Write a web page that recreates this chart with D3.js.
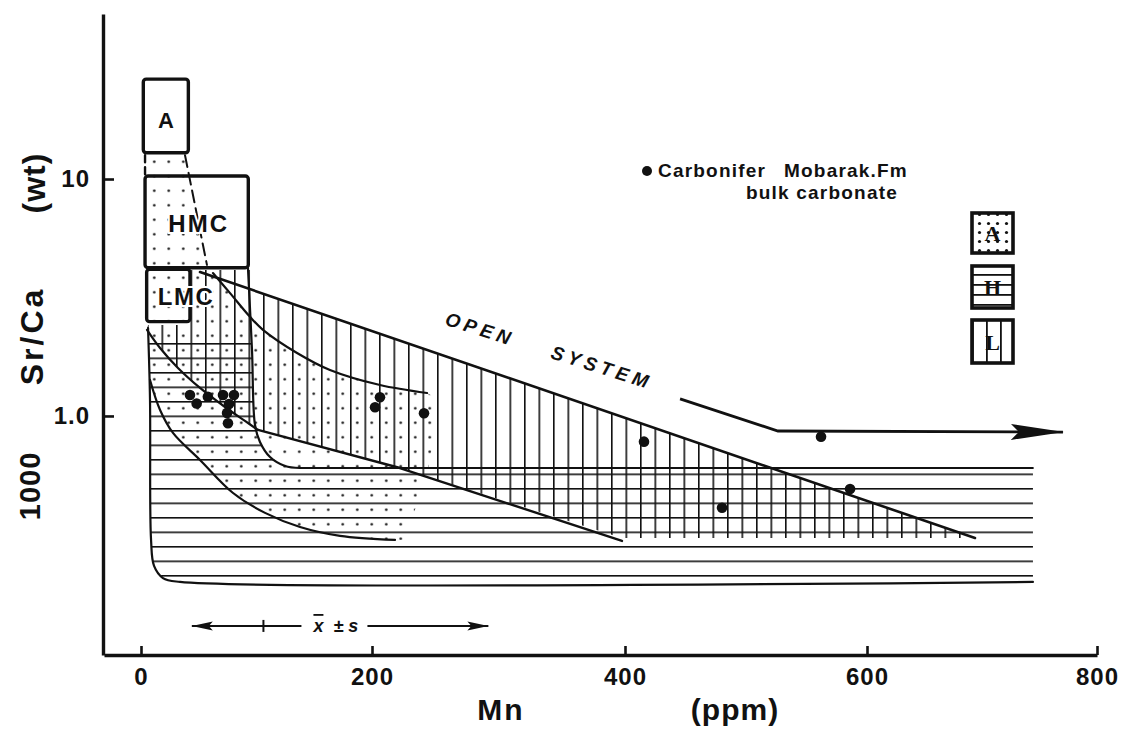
<!DOCTYPE html>
<html><head><meta charset="utf-8">
<script src="https://cdn.jsdelivr.net/npm/d3@7"></script>
<style>
html,body{margin:0;padding:0;background:#fff;}
svg{display:block;}
</style></head><body>
<svg id="chart" width="1128" height="729"></svg>
<script>
// ---------------- data ----------------
const xTickValues = [0, 200, 400, 600, 800];
const xTickLabels = ["0", "200", "400", "600", "800"];
const yTickValues = [1, 10];
const yTickLabels = ["1.0", "10"];

// Carbonifer Mobarak Fm bulk carbonate samples: Mn (ppm), Sr/Ca x1000
const sampleMn   = [42.4, 48.2, 57.9, 71.0, 80.5, 76.2, 74.5, 75.3, 206.3, 202.4, 241.1, 415.7, 480.2, 562.0, 586.0];
const sampleSrCa = [1.226, 1.129, 1.206, 1.226, 1.226, 1.124, 1.03, 0.932, 1.199, 1.088, 1.026, 0.779, 0.410, 0.818, 0.492];

// mean +- s of Mn
const xbarMn = [44, 106, 292];   // low, mean, high
const xbarSrCa = 0.130;

// mineral boxes [Mn min, Mn max], [Sr/Ca min, Sr/Ca max]
const boxAMn = [2.0, 41.0],   boxASrCa = [12.9, 26.4];
const boxHMCMn = [3.5, 92.9], boxHMCSrCa = [4.22, 10.3];
const boxLMCMn = [4.9, 42.4], boxLMCSrCa = [2.50, 4.16];
const gapDashLeft  = [[3.5, 12.6], [3.5, 10.3]];
const gapDashSlant = [[38.1, 12.6], [57.1, 4.34]];

// fields
const hField = [[6.1,2.28],[7.8,1.168],[8.7,0.2998],[11.3,0.2328],[19.0,0.207],[33.8,0.1993],[744.3,0.1993],[744.3,0.603],[137.7,0.603],[124.7,0.615],[111.7,0.671],[103.0,0.777],[98.7,0.916],[96.1,1.899],[94.4,2.28]];
const vField = [[6.1,2.42],[42.4,2.42],[42.4,4.13],[94.4,4.13],[94.4,3.43],[693.9,0.3056],[397.6,0.3056],[222.1,0.603],[101.3,0.873],[90.0,0.953],[72.7,1.091],[51.1,1.313],[32,1.594],[16.5,1.936],[5.2,2.31]];
const dotField = [[4.3,12.38],[38.1,12.38],[57.1,4.34],[62.3,4.01],[77.1,3.30],[94.4,2.62],[105.6,2.31],[135.1,1.845],[163.6,1.564],[206.3,1.351],[243.5,1.25],[253.8,1.168],[244.3,0.592],[226.1,0.2997],[218.2,0.2997],[172.3,0.312],[137.7,0.340],[107.4,0.39],[79.7,0.473],[51.1,0.652],[27.7,0.848],[16.5,1.06],[7.8,1.419],[4.3,1.419]];

// boundary lines
const lineL1 = [[51.1,4.05],[693.9,0.3056]];
const lineL2 = [[101.3,0.873],[222.1,0.603],[397.6,0.297]];
const curveC1 = [[62.3,4.01],[77.1,3.30],[94.4,2.62],[105.6,2.31],[135.1,1.845],[163.6,1.564],[206.3,1.351],[243.5,1.25]];
const curveC2 = [[5.2,2.31],[16.5,1.936],[32,1.594],[51.1,1.313],[72.7,1.091],[90.0,0.953],[101.3,0.873]];
const curveC3 = [[7.8,1.419],[16.5,1.06],[27.7,0.848],[51.1,0.652],[79.7,0.473],[107.4,0.39],[137.7,0.340],[172.3,0.312],[218.2,0.2997]];
const curveC4 = [[92.6,4.21],[96.1,1.899],[98.7,0.916],[103.0,0.777],[111.7,0.671],[124.7,0.615],[137.7,0.603]];
const lineHTop = [[137.7,0.603],[744.3,0.603]];
const outlineH = [[6.1,2.35],[7.8,1.168],[8.7,0.2998],[11.3,0.2328],[19.0,0.207],[33.8,0.1993],[744.3,0.1993]];
const openSystemArrow = [[445.5,1.18],[526.4,0.864],[770.4,0.855]];

// ---------------- drawing ----------------
const svg = d3.select("#chart");
const FONT = "'Liberation Sans', Arial, sans-serif";
const INK = "#111";

const x = d3.scaleLinear().domain([-32, 0, 200, 400, 600, 800]).range([104, 141, 372, 625, 867, 1097]);
const y = d3.scaleLog().domain([0.098, 49.7]).range([655, 14]);
const line = d3.line().x(d => x(d[0])).y(d => y(d[1]));
const curve = d3.line().x(d => x(d[0])).y(d => y(d[1])).curve(d3.curveCatmullRom.alpha(0.5));

const defs = svg.append("defs");
// horizontal hatch
const ph = defs.append("pattern").attr("id","hLines").attr("patternUnits","userSpaceOnUse")
  .attr("x",0).attr("y",9.5).attr("width",20).attr("height",14.5);
ph.append("rect").attr("x",0).attr("y",0).attr("width",20).attr("height",1.6).attr("fill",INK);
// vertical hatch
const pv = defs.append("pattern").attr("id","vLines").attr("patternUnits","userSpaceOnUse")
  .attr("x",2).attr("y",0).attr("width",14.5).attr("height",20);
pv.append("rect").attr("x",0).attr("y",0).attr("width",1.6).attr("height",20).attr("fill",INK);
// dots
const pd = defs.append("pattern").attr("id","dots").attr("patternUnits","userSpaceOnUse")
  .attr("x",2).attr("y",9.5).attr("width",14.5).attr("height",14.5);
pd.append("circle").attr("cx",7.25).attr("cy",7.25).attr("r",1.3).attr("fill",INK);
// legend patterns
const lph = defs.append("pattern").attr("id","lhLines").attr("patternUnits","userSpaceOnUse")
  .attr("x",0).attr("y",4).attr("width",10).attr("height",10);
lph.append("rect").attr("width",10).attr("height",1.8).attr("fill",INK);
const lpv = defs.append("pattern").attr("id","lvLines").attr("patternUnits","userSpaceOnUse")
  .attr("x",6).attr("y",0).attr("width",14).attr("height",10);
lpv.append("rect").attr("width",1.8).attr("height",10).attr("fill",INK);
const lpd = defs.append("pattern").attr("id","ldots").attr("patternUnits","userSpaceOnUse")
  .attr("x",3).attr("y",3).attr("width",9).attr("height",9);
lpd.append("circle").attr("cx",4.5).attr("cy",4.5).attr("r",1.6).attr("fill",INK);

// arrow markers
defs.append("marker").attr("id","arrowBig").attr("markerUnits","userSpaceOnUse")
  .attr("viewBox","0 0 54 18").attr("refX",52).attr("refY",9).attr("markerWidth",54).attr("markerHeight",18)
  .attr("orient","auto")
  .append("path").attr("d","M0,1 L53,9 L0,17 L8,9 Z").attr("fill",INK);
defs.append("marker").attr("id","arrowSmall").attr("markerUnits","userSpaceOnUse")
  .attr("viewBox","0 0 22 10").attr("refX",21).attr("refY",5).attr("markerWidth",22).attr("markerHeight",10)
  .attr("orient","auto-start-reverse")
  .append("path").attr("d","M0,0.5 L21,5 L0,9.5 L4,5 Z").attr("fill",INK);

const g = svg.append("g");

// pattern fields
g.append("path").attr("d", line(hField) + "Z").attr("fill","url(#hLines)");
g.append("path").attr("d", line(vField) + "Z").attr("fill","url(#vLines)");
g.append("path").attr("d", line(dotField) + "Z").attr("fill","url(#dots)");

// boundary lines
const strokeLine = (d, gen, w, dash) => g.append("path").attr("d", gen(d)).attr("fill","none")
  .attr("stroke",INK).attr("stroke-width",w).attr("stroke-dasharray",dash || null)
  .attr("stroke-linecap","round").attr("stroke-linejoin","round");
strokeLine(outlineH, curve, 2.2);
strokeLine(lineHTop, line, 1.8);
strokeLine(lineL1, line, 2.6);
strokeLine(lineL2, line, 2.4);
strokeLine(curveC1, curve, 2.2);
strokeLine(curveC2, curve, 2.2);
strokeLine(curveC3, curve, 2.2);
strokeLine(curveC4, curve, 2.2);

// boxes
function box(mn, sr) {
  g.append("rect").attr("x", x(mn[0])).attr("y", y(sr[1]))
    .attr("width", x(mn[1]) - x(mn[0])).attr("height", y(sr[0]) - y(sr[1]))
    .attr("rx",3).attr("fill","none").attr("stroke",INK).attr("stroke-width",3.4);
}
box(boxAMn, boxASrCa);
box(boxHMCMn, boxHMCSrCa);
box(boxLMCMn, boxLMCSrCa);
strokeLine(gapDashLeft, line, 2.4, "7,5");
strokeLine(gapDashSlant, line, 2, "12,6");

// box labels
const boxText = (t, xx, yy, size, ls) => g.append("text").attr("x", xx).attr("y", yy)
  .attr("text-anchor","middle").attr("font-family",FONT).attr("font-weight","bold")
  .attr("font-size",size).attr("letter-spacing",ls).attr("fill",INK)
  .attr("stroke","#fff").attr("stroke-width",4).attr("paint-order","stroke").text(t);
boxText("A", (x(boxAMn[0]) + x(boxAMn[1])) / 2, 128, 22, 0);
boxText("HMC", (x(boxHMCMn[0]) + x(boxHMCMn[1])) / 2 + 2, 232, 24, 2);
boxText("LMC", 186, 305, 24, 1.5);

// OPEN SYSTEM
g.append("text").attr("transform","translate(547,357) rotate(17.5)")
  .attr("text-anchor","middle").attr("font-family",FONT).attr("font-weight","bold")
  .attr("font-style","italic").attr("font-size",19).attr("letter-spacing",4.5).attr("fill",INK)
  .attr("xml:space","preserve").text("OPEN    SYSTEM");
g.append("path").attr("d", line(openSystemArrow)).attr("fill","none").attr("stroke",INK)
  .attr("stroke-width",2.8).attr("marker-end","url(#arrowBig)");

// mean +- s
const yb = y(xbarSrCa);
g.append("line").attr("x1", x(xbarMn[1])).attr("x2", x(xbarMn[0])).attr("y1", yb).attr("y2", yb)
  .attr("stroke",INK).attr("stroke-width",2).attr("marker-end","url(#arrowSmall)");
g.append("line").attr("x1", x(xbarMn[1])).attr("x2", x(xbarMn[1]) + 38).attr("y1", yb).attr("y2", yb)
  .attr("stroke",INK).attr("stroke-width",2);
g.append("line").attr("x1", x(xbarMn[1]) + 104).attr("x2", x(xbarMn[2])).attr("y1", yb).attr("y2", yb)
  .attr("stroke",INK).attr("stroke-width",2).attr("marker-end","url(#arrowSmall)");
g.append("line").attr("x1", x(xbarMn[1])).attr("x2", x(xbarMn[1])).attr("y1", yb - 6).attr("y2", yb + 6)
  .attr("stroke",INK).attr("stroke-width",2);
g.append("text").attr("x", x(xbarMn[1]) + 50).attr("y", yb + 6)
  .attr("font-family",FONT).attr("font-weight","bold").attr("font-style","italic")
  .attr("font-size",18).attr("fill",INK).attr("xml:space","preserve").text("x  \u00B1 s");
g.append("line").attr("x1", x(xbarMn[1]) + 50).attr("x2", x(xbarMn[1]) + 60).attr("y1", yb - 11).attr("y2", yb - 11)
  .attr("stroke",INK).attr("stroke-width",1.8);

// samples
g.selectAll("circle.sample").data(sampleMn).join("circle").attr("class","sample")
  .attr("cx", d => x(d)).attr("cy", (d, i) => y(sampleSrCa[i])).attr("r", 5.3).attr("fill", INK);

// axes
const xAxis = d3.axisBottom(x).tickValues(xTickValues).tickFormat((d, i) => xTickLabels[i])
  .tickSizeInner(-9).tickSizeOuter(0).tickPadding(13);
const gx = svg.append("g").attr("transform","translate(0,655)").call(xAxis);
const yAxis = d3.axisLeft(y).tickValues(yTickValues).tickFormat((d, i) => yTickLabels[i])
  .tickSizeInner(-11).tickSizeOuter(0).tickPadding(13);
const gy = svg.append("g").attr("transform","translate(103,0)").call(yAxis);
[gx, gy].forEach(a => {
  a.attr("font-family", FONT).attr("font-size", 24).attr("font-weight","bold");
  a.select(".domain").attr("stroke", INK).attr("stroke-width", 3.4);
  a.selectAll(".tick line").attr("stroke", INK).attr("stroke-width", 2.6);
  a.selectAll(".tick text").attr("fill", INK).attr("letter-spacing", 1);
});

// axis titles
const title = (t, tr, size, ls, anchor) => svg.append("text").attr("transform", tr)
  .attr("text-anchor", anchor || "middle").attr("font-family", FONT).attr("font-weight","bold")
  .attr("font-size", size).attr("letter-spacing", ls).attr("fill", INK).text(t);
title("Sr/Ca", "translate(43,336) rotate(-90)", 32, 3);
title("(wt)", "translate(45,183) rotate(-90)", 32, 1);
title("1000", "translate(40,486) rotate(-90)", 29, 1);
title("Mn", "translate(501,720)", 30, 2);
title("(ppm)", "translate(735,720)", 30, 1);

// legend
svg.append("circle").attr("cx", 647).attr("cy", 171).attr("r", 5).attr("fill", INK);
const lt = (t, xx, yy) => svg.append("text").attr("x", xx).attr("y", yy).attr("font-family", FONT)
  .attr("font-weight","bold").attr("font-size",19).attr("letter-spacing",1.2).attr("fill",INK).text(t);
lt("Carbonifer", 658, 177);
lt("Mobarak.Fm", 784, 177);
lt("bulk carbonate", 746, 199);

const legBoxes = [
  {y0: 213, y1: 253, fill: "url(#ldots)", label: "A"},
  {y0: 266, y1: 308, fill: "url(#lhLines)", label: "H"},
  {y0: 320, y1: 363, fill: "url(#lvLines)", label: "L"}
];
legBoxes.forEach(b => {
  svg.append("rect").attr("x", 972).attr("y", b.y0).attr("width", 41).attr("height", b.y1 - b.y0)
    .attr("fill", b.fill).attr("stroke", INK).attr("stroke-width", 3.6);
  svg.append("text").attr("x", 992.5).attr("y", (b.y0 + b.y1) / 2 + 8).attr("text-anchor","middle")
    .attr("font-family","'Liberation Serif', 'DejaVu Serif', serif").attr("font-weight","bold").attr("font-size", 22)
    .attr("fill", INK).text(b.label);
});
</script>
</body></html>
